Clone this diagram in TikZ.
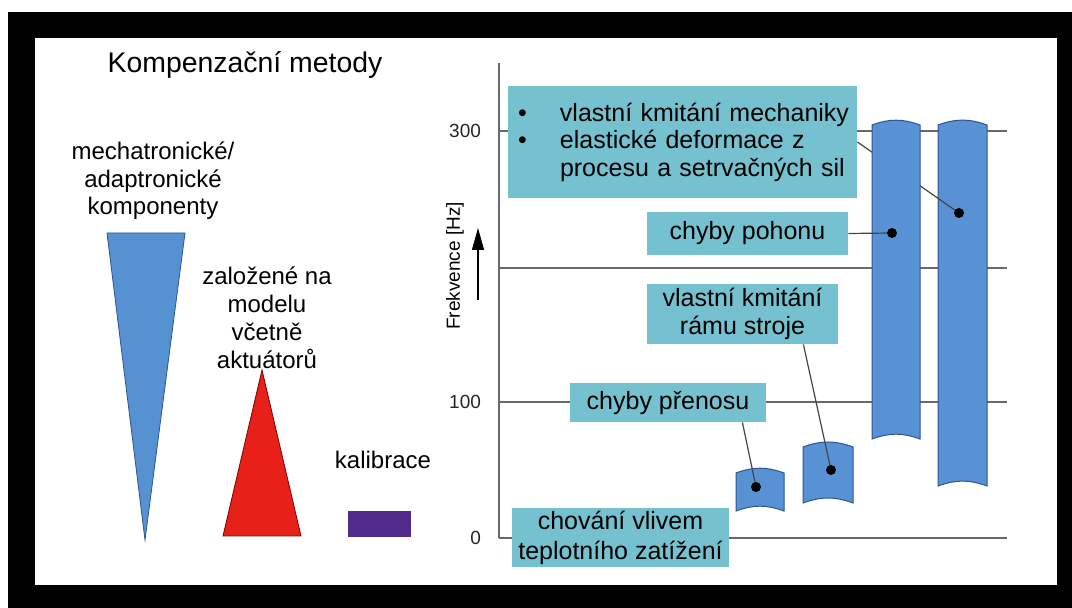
\documentclass[tikz,border=0pt]{standalone}
\usepackage{fontspec}
\setmainfont{Liberation Sans}
\usetikzlibrary{arrows.meta}

\definecolor{boxcyan}{RGB}{118,193,207}
\definecolor{barblue}{RGB}{88,146,212}
\definecolor{bardark}{RGB}{42,86,150}
\definecolor{triblue}{RGB}{86,145,210}
\definecolor{trired}{RGB}{232,32,26}
\definecolor{kalpurple}{RGB}{82,42,140}
\definecolor{gridgray}{RGB}{105,105,105}
\definecolor{conngray}{RGB}{70,70,70}

\begin{document}
\begin{tikzpicture}[x=0.5pt,y=-0.5pt,
  box/.style={fill=boxcyan,align=center,inner sep=0pt,font=\fontsize{12.5}{13.75}\selectfont},
  lbl/.style={align=center,font=\fontsize{12}{13.75}\selectfont},
  tick/.style={anchor=east,font=\fontsize{9.5}{11}\selectfont,text=black!85},
  grid/.style={draw=gridgray,line width=1pt},
  conn/.style={draw=conngray,line width=0.6pt},
  dot/.style={circle,fill=black,inner sep=0pt,minimum size=5pt},
  barfill/.style={fill=barblue,draw=bardark,line width=0.5pt},
  arr/.style={-{Triangle[length=11pt,width=6pt]},draw=black,line width=0.6pt}]

% frame
\useasboundingbox (0,0) rectangle (1072,608);
\fill[white] (0,0) rectangle (1072,608);
\fill[black] (8,12) rectangle (1072,608);
\fill[white] (35,38) rectangle (1057,585);

% left part
\node[font=\fontsize{14.2}{17}\selectfont] (title) at (245,65) {Kompenzační metody};
\node[lbl] (mech) at (153,181) {mechatronické/\\adaptronické\\komponenty};
\node[lbl,font=\fontsize{12}{14}\selectfont] (model) at (267,318) {založené na\\modelu\\včetně\\aktuátorů};
\node[lbl] (kal) at (383,460) {kalibrace};
\draw[fill=triblue,draw=bardark,line width=0.4pt] (107,233) -- (185,233) -- (145,540) -- cycle;
\draw[fill=trired,draw=red!50!black,line width=0.4pt] (262,370) -- (301,536) -- (223,536) -- cycle;
\fill[kalpurple] (348,511) rectangle (411,537);

% axis and levels
\coordinate (top) at (499,63);
\coordinate (orig) at (499,538);
\draw[grid] (top) -- (orig);
\foreach \y/\t in {131/300,268/,402/100,538/0}{
  \draw[grid] (499,\y) -- (1007,\y);
  \node[tick] (tick\y) at (488,\y) {\t};
}
\node[rotate=90,font=\fontsize{9.5}{11}\selectfont] (ylab) at (455,266) {Frekvence [Hz]};
\coordinate (arrS) at (478,300);
\coordinate (arrE) at (478,228);
\draw[arr] (arrS) -- (arrE);

% boxes
\node[box,minimum width=174.5pt,minimum height=56pt,text width=166.5pt,align=left] (b1) at (682.5,142)
  {\makebox[22pt][l]{\hspace*{1pt}\textbullet}vlastní kmitání mechaniky\\\makebox[22pt][l]{\hspace*{1pt}\textbullet}elastické deformace z\\\hspace*{22pt}procesu a setrvačných sil};
\node[box,minimum width=100.5pt,minimum height=21.5pt] (b2) at (747.5,233.5) {chyby pohonu};
\node[box,minimum width=95.5pt,minimum height=30pt] (b3) at (742.5,314) {vlastní kmitání\\rámu stroje};
\node[box,minimum width=98pt,minimum height=19.5pt] (b4) at (668,402.5) {chyby přenosu};
\node[box,minimum width=108.5pt,minimum height=29.5pt,font=\fontsize{12.5}{15}\selectfont] (b5) at (620.5,537.5) {chování vlivem\\teplotního zatížení};

% points on the bars
\coordinate (d1) at (892,233);
\coordinate (d2) at (959,213);
\coordinate (d3) at (831,470);
\coordinate (d4) at (756,487);

% bars
\draw[barfill] (938,125) to[bend left=20] (987,125) -- (987,486) to[bend right=20] (938,486) -- cycle;
\draw[conn] (b1.east) -- (d2);
\draw[barfill] (872,125) to[bend left=20] (920,125) -- (920,439) to[bend right=20] (872,439) -- cycle;
\draw[barfill] (803,447) to[bend left=20] (853,447) -- (853,503) to[bend right=20] (803,503) -- cycle;
\draw[barfill] (736,473) to[bend left=20] (784,473) -- (784,511) to[bend right=20] (736,511) -- cycle;

% connectors
\draw[conn] (b2.east) -- (d1);
\draw[conn] ([xshift=-17.5pt]b3.south east) -- (d3);
\draw[conn] ([xshift=-12pt]b4.south east) -- (d4);
\foreach \d in {d1,d2,d3,d4}
  \node[dot] (dot\d) at (\d) {};
\end{tikzpicture}
\end{document}
